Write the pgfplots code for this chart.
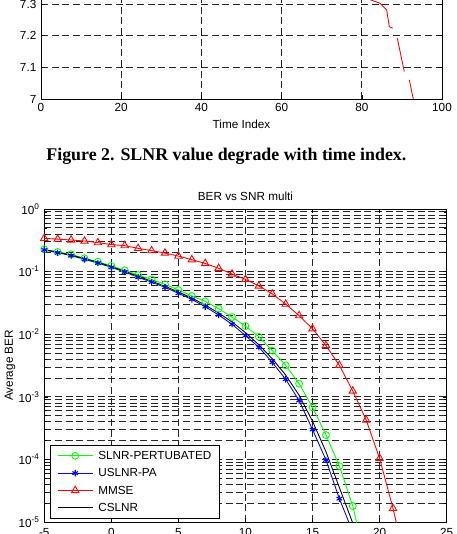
\documentclass[border=0pt]{standalone}
\usepackage{fontspec}
\setmainfont{Liberation Sans}
\newfontfamily\capfont{Liberation Serif}
\usepackage{pgfplots}
\pgfplotsset{compat=1.18}
\begin{document}
\begin{tikzpicture}
\useasboundingbox (0pt,0pt) rectangle (342pt,400.5pt);
\clip (0pt,0pt) rectangle (342pt,400.5pt);
\pgfplotsset{
  every axis/.append style={
    scale only axis,
    font=\fontsize{8.8}{10}\selectfont,
    tick align=inside,
    major tick length=3pt, minor tick length=1.8pt,
    tick style={black, line width=0.4pt},
    axis line style={black, line width=0.6pt},
    grid style={black!85, line width=0.55pt, dash pattern=on 5.2pt off 2.8pt},
    minor grid style={black!85, line width=0.55pt, dash pattern=on 5.2pt off 2.8pt},
    /pgf/number format/assume math mode=true,
  }
}
% ---------- top (cropped) chart ----------
\begin{axis}[at={(30.75pt,326.25pt)}, anchor=south west,
  width=300.75pt, height=83.125pt,
  xmin=0, xmax=100, ymin=7, ymax=7.35,
  xtick={0,20,...,100}, ytick={7,7.1,7.2,7.3},
  yticklabel style={/pgf/number format/fixed},
  grid=major,
  xlabel={Time Index},
  xlabel style={at={(axis description cs:0.5,-0.2256)}, anchor=center},
]
\addplot[red, line width=0.65pt, dash pattern=on 33.8pt off 8.25pt on 25.6pt off 7.27pt on 60pt off 1pt] coordinates {
(81.05,7.3189) (82.29,7.3126) (84.54,7.3021) (86.21,7.2811) (86.86,7.2283) (87.71,7.2233)
(88.85,7.1917) (90.60,7.0862) (91.85,7.0600) (92.84,7.0) (93.14,6.981)};
\end{axis}
\node[font=\capfont\bfseries\fontsize{13.4}{15}\selectfont] at (169.8pt,283pt) {Figure 2. SLNR value degrade with time index.};
% ---------- BER chart ----------
\begin{axis}[at={(33.2pt,9pt)}, anchor=south west,
  width=301.8pt, height=234.75pt,
  ymode=log, xmin=-5, xmax=25, ymin=1e-5, ymax=1,
  xtick={-5,0,5,10,15,20,25}, xticklabels={-5,0,5,10,15,20,25},
  xticklabel style={yshift=-1.5pt},
  ytick={1e-5,1e-4,1e-3,1e-2,1e-1,1},
  yticklabels={10\textsuperscript{-5},10\textsuperscript{-4},10\textsuperscript{-3},10\textsuperscript{-2},10\textsuperscript{-1},10\textsuperscript{0}},
  xmajorgrids, ymajorgrids, yminorgrids,
  title={BER vs SNR multi},
  title style={at={(axis description cs:0.5,1)}, anchor=center, yshift=3.2pt},
  ylabel={Average BER},
  ylabel style={at={(axis description cs:-0.085,0.5)}, anchor=center},
  legend cell align=left,
  legend image code/.code={\draw[mark repeat=2,mark phase=2,#1] plot coordinates {(0pt,0pt) (13pt,0pt) (26pt,0pt)};},
  legend style={at={(0.0142,0.0096)}, anchor=south west, draw=black, line width=0.8pt,
    font=\fontsize{8.8}{10}\selectfont, inner xsep=5.2pt, inner ysep=3.3pt, row sep=3.6pt, column sep=3pt,
    nodes={inner sep=1pt, text height=6.4pt, text depth=1pt}},
]
\addplot[color={rgb,1:red,0;green,1;blue,0}, line width=0.65pt, mark=o, mark size=2.6pt, mark options={solid}] coordinates {
(-5,0.227) (-4,0.206) (-3,0.189) (-2,0.163) (-1,0.144) (0,0.123) (1,0.105) (2,0.088) (3,0.075) (4,0.0626)
(5,0.0508) (6,0.0408) (7,0.0335) (8,0.0256) (9,0.0188) (10,0.0135) (11,0.0091) (12,0.00546) (13,0.00318)
(14,0.00162) (15,6.8e-4) (16,2.45e-4) (17,7.85e-5) (18,1.8e-5) (19,2.2e-6)};
\addlegendentry{SLNR-PERTUBATED}
\addplot[blue, line width=0.65pt, mark=asterisk, mark size=2.4pt, mark options={solid, line width=0.8pt}] coordinates {
(-5,0.222) (-4,0.2) (-3,0.18) (-2,0.157) (-1,0.137) (0,0.117) (1,0.0986) (2,0.081) (3,0.068) (4,0.056)
(5,0.045) (6,0.036) (7,0.0275) (8,0.0203) (9,0.0144) (10,0.0095) (11,0.0062) (12,0.00355) (13,0.0019)
(14,8.7e-4) (15,3.0e-4) (16,9.8e-5) (17,2.36e-5) (18,6.9e-6)};
\addlegendentry{USLNR-PA}
\addplot[red, line width=0.65pt, mark=triangle, mark size=3.2pt, mark options={solid}] coordinates {
(-5,0.34) (-4,0.33) (-3,0.32) (-2,0.308) (-1,0.29) (0,0.27) (1,0.26) (2,0.235) (3,0.216) (4,0.198)
(5,0.177) (6,0.155) (7,0.135) (8,0.113) (9,0.0916) (10,0.075) (11,0.059) (12,0.044) (13,0.0303)
(14,0.0198) (15,0.0122) (16,0.0066) (17,0.00318) (18,0.00124) (19,4.26e-4) (20,1.04e-4) (21,1.65e-5) (22,2e-6)};
\addlegendentry{MMSE}
\addplot[black, line width=0.65pt] coordinates {
(-5,0.225) (-4,0.204) (-3,0.184) (-2,0.161) (-1,0.141) (0,0.12) (1,0.1015) (2,0.084) (3,0.0705) (4,0.0585)
(5,0.0472) (6,0.0379) (7,0.0292) (8,0.0218) (9,0.0157) (10,0.0106) (11,0.00676) (12,0.00405) (13,0.00222)
(14,0.00106) (15,4.07e-4) (16,1.33e-4) (17,3.55e-5) (18,9.6e-6)};
\addlegendentry{CSLNR}
\end{axis}
\end{tikzpicture}
\end{document}
